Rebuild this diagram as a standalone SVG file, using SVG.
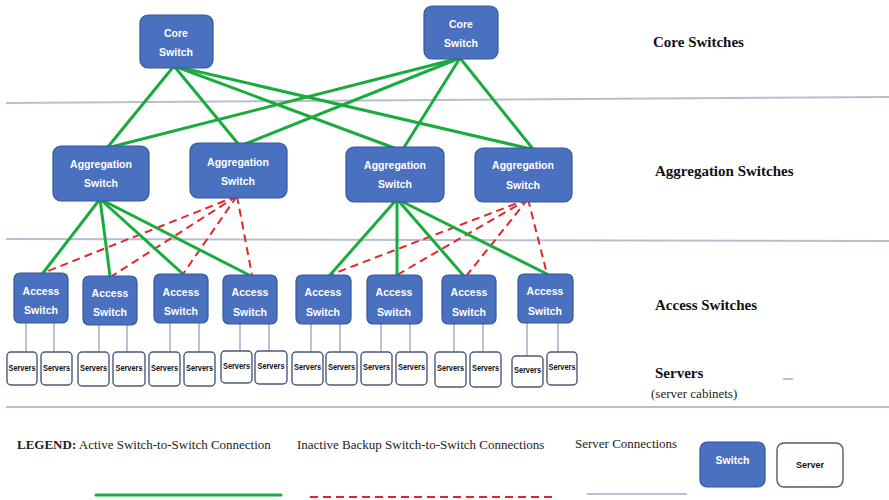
<svg xmlns="http://www.w3.org/2000/svg" width="889" height="500" viewBox="0 0 889 500">
<style>
.sw{fill:#4a70c0;stroke:#34579a;stroke-width:1.2}
.sv{fill:#fff;stroke:#4b5a78;stroke-width:1.4}
.st{font-family:"Liberation Sans",Arial,sans-serif;font-weight:bold;font-size:10.5px;fill:#fff;text-anchor:middle}
.svt{font-family:"Liberation Sans",Arial,sans-serif;font-weight:bold;font-size:8.5px;fill:#111;text-anchor:middle}
.act{stroke:#1aab3e;stroke-width:3;fill:none;stroke-linecap:round}
.bak{stroke:#e0282a;stroke-width:2;fill:none;stroke-dasharray:8 5}
.scn{stroke:#a3adc4;stroke-width:1.5;fill:none}
.sep{stroke:#b6bfd0;stroke-width:2;fill:none}
.lbl{font-family:"Liberation Serif","Times New Roman",serif;font-weight:bold;font-size:15px;fill:#111}
.lg{font-family:"Liberation Serif","Times New Roman",serif;font-size:13px;fill:#222}
</style>
<rect width="889" height="500" fill="#fff"/>
<g id="separators">
<line class="sep" x1="6" y1="103" x2="889" y2="97"/>
<line class="sep" x1="6" y1="239" x2="889" y2="241"/>
<line class="sep" x1="6" y1="407" x2="889" y2="407"/>
</g>
<g id="connectors">
<g id="core-links">
<line class="act" x1="174" y1="66" x2="107" y2="148"/>
<line class="act" x1="174" y1="66" x2="240" y2="146"/>
<line class="act" x1="174" y1="66" x2="397" y2="149"/>
<line class="act" x1="174" y1="66" x2="531" y2="149"/>
<line class="act" x1="460" y1="58" x2="107" y2="148"/>
<line class="act" x1="460" y1="58" x2="240" y2="146"/>
<line class="act" x1="460" y1="58" x2="403" y2="149"/>
<line class="act" x1="460" y1="58" x2="533" y2="149"/>
</g>
<g id="backup-links">
<line class="bak" x1="237" y1="196" x2="43" y2="273"/>
<line class="bak" x1="237" y1="196" x2="112" y2="276"/>
<line class="bak" x1="237" y1="196" x2="183" y2="274"/>
<line class="bak" x1="237" y1="196" x2="252" y2="275"/>
<line class="bak" x1="528" y1="199" x2="330" y2="275"/>
<line class="bak" x1="528" y1="199" x2="397" y2="275"/>
<line class="bak" x1="528" y1="199" x2="467" y2="275"/>
<line class="bak" x1="528" y1="199" x2="547" y2="274"/>
</g>
<g id="agg-links">
<line class="act" x1="100" y1="199" x2="43" y2="273"/>
<line class="act" x1="100" y1="199" x2="110" y2="276"/>
<line class="act" x1="100" y1="199" x2="183" y2="274"/>
<line class="act" x1="100" y1="199" x2="249" y2="275"/>
<line class="act" x1="397" y1="199" x2="330" y2="275"/>
<line class="act" x1="397" y1="199" x2="397" y2="275"/>
<line class="act" x1="397" y1="199" x2="463" y2="275"/>
<line class="act" x1="397" y1="199" x2="547" y2="274"/>
</g>
<g id="server-links">
<line class="scn" x1="26" y1="323" x2="26" y2="352"/>
<line class="scn" x1="54" y1="323" x2="54" y2="352"/>
<line class="scn" x1="99" y1="325" x2="99" y2="352"/>
<line class="scn" x1="127" y1="325" x2="127" y2="352"/>
<line class="scn" x1="170" y1="323" x2="170" y2="352"/>
<line class="scn" x1="199" y1="323" x2="199" y2="352"/>
<line class="scn" x1="240" y1="324" x2="240" y2="351"/>
<line class="scn" x1="269" y1="324" x2="269" y2="351"/>
<line class="scn" x1="311" y1="324" x2="311" y2="352"/>
<line class="scn" x1="340" y1="324" x2="340" y2="352"/>
<line class="scn" x1="381" y1="324" x2="381" y2="352"/>
<line class="scn" x1="410" y1="324" x2="410" y2="352"/>
<line class="scn" x1="454" y1="324" x2="454" y2="352"/>
<line class="scn" x1="483" y1="324" x2="483" y2="352"/>
<line class="scn" x1="527" y1="323" x2="527" y2="356"/>
<line class="scn" x1="558" y1="323" x2="558" y2="352"/>
</g>
</g>
<g id="core1"><rect class="sw" x="140" y="15" width="73" height="53" rx="8"/><text class="st" x="176" y="37">Core</text><text class="st" x="176" y="56">Switch</text></g>
<g id="core2"><rect class="sw" x="424" y="6" width="74" height="53" rx="8"/><text class="st" x="461" y="28">Core</text><text class="st" x="461" y="47">Switch</text></g>
<g id="agg1"><rect class="sw" x="53" y="146" width="96" height="55" rx="8"/><text class="st" x="101" y="168">Aggregation</text><text class="st" x="101" y="187">Switch</text></g>
<g id="agg2"><rect class="sw" x="190" y="143" width="97" height="55" rx="8"/><text class="st" x="238" y="166">Aggregation</text><text class="st" x="238" y="185">Switch</text></g>
<g id="agg3"><rect class="sw" x="346" y="147" width="98" height="55" rx="8"/><text class="st" x="395" y="169">Aggregation</text><text class="st" x="395" y="188">Switch</text></g>
<g id="agg4"><rect class="sw" x="475" y="148" width="97" height="54" rx="8"/><text class="st" x="523" y="169">Aggregation</text><text class="st" x="523" y="189">Switch</text></g>
<g id="acc1"><rect class="sw" x="14" y="273" width="54" height="50" rx="6"/><text class="st" x="41" y="295">Access</text><text class="st" x="41" y="314">Switch</text></g>
<g id="acc2"><rect class="sw" x="83" y="276" width="54" height="49" rx="6"/><text class="st" x="110" y="297">Access</text><text class="st" x="110" y="316">Switch</text></g>
<g id="acc3"><rect class="sw" x="154" y="274" width="54" height="49" rx="6"/><text class="st" x="181" y="296">Access</text><text class="st" x="181" y="315">Switch</text></g>
<g id="acc4"><rect class="sw" x="223" y="275" width="54" height="49" rx="6"/><text class="st" x="250" y="296">Access</text><text class="st" x="250" y="316">Switch</text></g>
<g id="acc5"><rect class="sw" x="296" y="275" width="55" height="49" rx="6"/><text class="st" x="323" y="296">Access</text><text class="st" x="323" y="316">Switch</text></g>
<g id="acc6"><rect class="sw" x="367" y="275" width="55" height="49" rx="6"/><text class="st" x="394" y="296">Access</text><text class="st" x="394" y="316">Switch</text></g>
<g id="acc7"><rect class="sw" x="442" y="275" width="54" height="49" rx="6"/><text class="st" x="469" y="296">Access</text><text class="st" x="469" y="316">Switch</text></g>
<g id="acc8"><rect class="sw" x="518" y="274" width="55" height="49" rx="6"/><text class="st" x="545" y="295">Access</text><text class="st" x="545" y="315">Switch</text></g>
<g id="srv1"><rect class="sv" x="7" y="352" width="30" height="33" rx="4"/><text class="svt" x="22" y="371" textLength="27" lengthAdjust="spacingAndGlyphs">Servers</text></g>
<g id="srv2"><rect class="sv" x="41" y="352" width="31" height="33" rx="4"/><text class="svt" x="56.5" y="371" textLength="27" lengthAdjust="spacingAndGlyphs">Servers</text></g>
<g id="srv3"><rect class="sv" x="78" y="352" width="31" height="34" rx="4"/><text class="svt" x="93.5" y="371" textLength="27" lengthAdjust="spacingAndGlyphs">Servers</text></g>
<g id="srv4"><rect class="sv" x="113" y="352" width="32" height="34" rx="4"/><text class="svt" x="129" y="371" textLength="27" lengthAdjust="spacingAndGlyphs">Servers</text></g>
<g id="srv5"><rect class="sv" x="149" y="352" width="31" height="34" rx="4"/><text class="svt" x="164.5" y="371" textLength="27" lengthAdjust="spacingAndGlyphs">Servers</text></g>
<g id="srv6"><rect class="sv" x="184" y="352" width="31" height="34" rx="4"/><text class="svt" x="199.5" y="371" textLength="27" lengthAdjust="spacingAndGlyphs">Servers</text></g>
<g id="srv7"><rect class="sv" x="221" y="351" width="31" height="32" rx="4"/><text class="svt" x="236.5" y="369" textLength="27" lengthAdjust="spacingAndGlyphs">Servers</text></g>
<g id="srv8"><rect class="sv" x="255" y="351" width="32" height="33" rx="4"/><text class="svt" x="271" y="369" textLength="27" lengthAdjust="spacingAndGlyphs">Servers</text></g>
<g id="srv9"><rect class="sv" x="292" y="352" width="31" height="33" rx="4"/><text class="svt" x="307.5" y="370" textLength="27" lengthAdjust="spacingAndGlyphs">Servers</text></g>
<g id="srv10"><rect class="sv" x="326" y="352" width="31" height="33" rx="4"/><text class="svt" x="341.5" y="370" textLength="27" lengthAdjust="spacingAndGlyphs">Servers</text></g>
<g id="srv11"><rect class="sv" x="361" y="352" width="31" height="33" rx="4"/><text class="svt" x="376.5" y="370" textLength="27" lengthAdjust="spacingAndGlyphs">Servers</text></g>
<g id="srv12"><rect class="sv" x="396" y="352" width="31" height="33" rx="4"/><text class="svt" x="411.5" y="370" textLength="27" lengthAdjust="spacingAndGlyphs">Servers</text></g>
<g id="srv13"><rect class="sv" x="435" y="352" width="31" height="35" rx="4"/><text class="svt" x="450.5" y="371" textLength="27" lengthAdjust="spacingAndGlyphs">Servers</text></g>
<g id="srv14"><rect class="sv" x="470" y="352" width="31" height="35" rx="4"/><text class="svt" x="485.5" y="371" textLength="27" lengthAdjust="spacingAndGlyphs">Servers</text></g>
<g id="srv15"><rect class="sv" x="512" y="356" width="31" height="31" rx="4"/><text class="svt" x="527.5" y="373" textLength="27" lengthAdjust="spacingAndGlyphs">Servers</text></g>
<g id="srv16"><rect class="sv" x="547" y="352" width="30" height="33" rx="4"/><text class="svt" x="562" y="370" textLength="27" lengthAdjust="spacingAndGlyphs">Servers</text></g>
<g id="layer-labels">
<text class="lbl" x="653" y="47">Core Switches</text>
<text class="lbl" x="655" y="176">Aggregation Switches</text>
<text class="lbl" x="655" y="310">Access Switches</text>
<text class="lbl" x="655" y="378">Servers</text>
<text class="lg" x="651" y="398" font-size="14">(server cabinets)</text>
<line x1="783" y1="379" x2="793" y2="379" stroke="#b8c3dc" stroke-width="2"/>
</g>
<g id="legend">
<text class="lg" x="17" y="449"><tspan font-weight="bold">LEGEND:</tspan> Active Switch-to-Switch Connection</text>
<text class="lg" x="297" y="449">Inactive Backup Switch-to-Switch Connections</text>
<text class="lg" x="575" y="448">Server Connections</text>
<line class="act" x1="96" y1="495" x2="281" y2="495" stroke-linecap="butt" stroke-width="4"/>
<line class="bak" x1="310" y1="497" x2="553" y2="497" stroke-width="3"/>
<line class="scn" x1="587" y1="494" x2="687" y2="494"/>
<g id="legend-switch"><rect class="sw" x="700" y="442" width="65" height="45" rx="7"/><text class="st" x="732.5" y="464">Switch</text></g>
<g id="legend-server"><rect class="sv" x="777" y="443" width="66" height="44" rx="7"/><text class="svt" x="810" y="468" font-size="10.5" textLength="28" lengthAdjust="spacingAndGlyphs">Server</text></g>
</g>
</svg>
